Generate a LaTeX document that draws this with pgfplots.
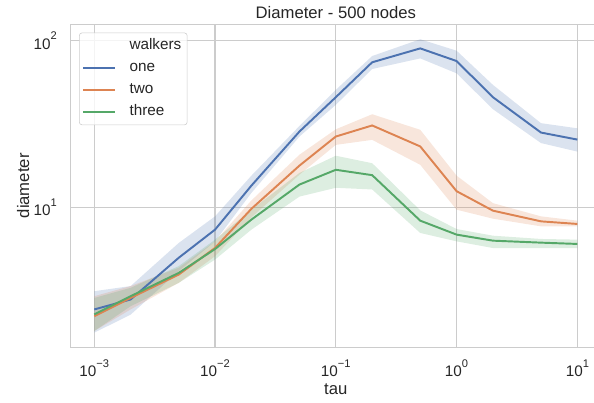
\documentclass[border=0pt]{standalone}
\usepackage{fontspec}
\setmainfont{Liberation Sans}
\usepackage{pgfplots}
\usepackage{pgfplotstable}
\pgfplotsset{compat=1.18}
\usepgfplotslibrary{fillbetween}

\definecolor{sbblue}{RGB}{76,114,176}
\definecolor{sborange}{RGB}{221,132,82}
\definecolor{sbgreen}{RGB}{85,168,104}
\definecolor{gridgray}{RGB}{204,204,204}
\definecolor{textgray}{RGB}{38,38,38}

\newcommand{\pw}[1]{10\raisebox{7pt}{\fontsize{8}{8}\selectfont #1}}

% tau, mean diameter and band (lo/hi) per number of walkers
\pgfplotstableread{
tau   one  onelo onehi two  twolo twohi three threelo threehi
0.001 2.44 1.77  3.14  2.22 1.81  2.93  2.28  1.81    2.86
0.002 2.80 2.27  3.37  2.86 2.44  3.37  2.93  2.55    3.29
0.005 4.98 4.14  6.11  3.95 3.52  4.34  4.04  3.52    4.44
0.01  7.35 6.25  8.83  5.71 5.09  6.25  5.62  4.86    6.40
0.02  13.5 12.2  15.5  9.8  8.7   11.0  8.44  7.35    9.68
0.05  28.5 26.6  30.8  17.8 15.7  20.7  13.7  11.6    16.1
0.1   45.8 41.2  50.7  26.6 23.7  29.4  16.8  13.1    20.4
0.2   74.2 67.6  80.9  31.0 25.4  36.2  15.6  12.8    18.4
0.5   89.9 78.3  102   23.2 18.0  29.2  8.32  7.02    9.59
1     75.5 63.7  87.1  12.5 9.68  15.5  6.86  6.25    7.41
2     45.8 38.8  54.3  9.55 8.55  10.6  6.31  5.70    6.76
5     28.1 24.3  32.0  8.24 7.69  8.83  6.14  5.70    6.46
10    25.5 21.6  29.8  7.95 7.69  8.32  6.03  5.70    6.40
}\data

\begin{document}
\begin{tikzpicture}
\begin{axis}[
    name=ax,
    xmode=log, ymode=log,
    scale only axis,
    width=382.6pt, height=232.6pt,
    xmin=6.31e-4, xmax=15.85,
    ymin=1.445, ymax=125.4,
    xtick={0.001,0.01,0.1,1,10},
    xticklabels={\pw{−3},\pw{−2},\pw{−1},\pw{0},\pw{1}},
    ytick={10,100},
    yticklabels={\pw{1},\pw{2}},
    minor xtick={}, minor ytick={},
    major tick length=0pt, minor tick length=0pt,
    tick style={draw=none},
    xmajorgrids, ymajorgrids,
    major grid style={gridgray, line width=0.8pt},
    axis line style={gridgray, line width=0.9pt},
    xticklabel style={anchor=base, yshift=-21.2pt, inner sep=0pt, font=\fontsize{11}{13}\selectfont, text=textgray},
    yticklabel style={anchor=east, xshift=-9.4pt, inner sep=0pt, font=\fontsize{11}{13}\selectfont, text=textgray},
    title={Diameter - 500 nodes},
    every axis title shift=0pt,
    title style={at={(axis description cs:0.5,1.0185)}, anchor=base, inner sep=0pt, font=\fontsize{12}{14}\selectfont, text=textgray},
    xlabel={tau},
    ylabel={diameter},
    every axis x label/.style={at={(axis description cs:0.5,-0.1453)}, anchor=base, inner sep=0pt, font=\fontsize{12}{14}\selectfont, text=textgray},
    every axis y label/.style={at={(axis description cs:-0.0771,0.5)}, rotate=90, anchor=base, inner sep=0pt, font=\fontsize{12}{14}\selectfont, text=textgray},
    legend style={
        at={(axis description cs:0,1)}, anchor=north west,
        xshift=6.4pt, yshift=-6pt,
        font=\fontsize{11}{13}\selectfont, text=textgray,
        draw=gridgray, rounded corners=2pt,
        fill=white, fill opacity=0.8, text opacity=1,
        inner xsep=2pt, inner ysep=1.5pt,
        row sep=0pt, column sep=7.6pt,
        nodes={inner xsep=2.2pt, inner ysep=2.65pt, text height=8pt, text depth=2.5pt},
        cells={anchor=west},
    },
    legend image code/.code={\draw[#1] (0pt,0pt) -- (23pt,0pt);},
]
\addlegendimage{empty legend}
\addlegendentry{walkers}

% one
\addplot[name path=oneH, draw=none, forget plot] table[x=tau, y=onehi] {\data};
\addplot[name path=oneL, draw=none, forget plot] table[x=tau, y=onelo] {\data};
\addplot[fill=sbblue, fill opacity=0.2, draw=none, forget plot] fill between[of=oneH and oneL];
\addplot[sbblue, line width=1.4pt] table[x=tau, y=one] {\data};
\addlegendentry{one}

% two
\addplot[name path=twoH, draw=none, forget plot] table[x=tau, y=twohi] {\data};
\addplot[name path=twoL, draw=none, forget plot] table[x=tau, y=twolo] {\data};
\addplot[fill=sborange, fill opacity=0.2, draw=none, forget plot] fill between[of=twoH and twoL];
\addplot[sborange, line width=1.4pt] table[x=tau, y=two] {\data};
\addlegendentry{two}

% three
\addplot[name path=threeH, draw=none, forget plot] table[x=tau, y=threehi] {\data};
\addplot[name path=threeL, draw=none, forget plot] table[x=tau, y=threelo] {\data};
\addplot[fill=sbgreen, fill opacity=0.2, draw=none, forget plot] fill between[of=threeH and threeL];
\addplot[sbgreen, line width=1.4pt] table[x=tau, y=three] {\data};
\addlegendentry{three}
\end{axis}
\pgfresetboundingbox
\path ([shift={(-50.5pt,-39.4pt)}]ax.south west) rectangle ([shift={(377.2pt,17.5pt)}]ax.north west);
\end{tikzpicture}
\end{document}
